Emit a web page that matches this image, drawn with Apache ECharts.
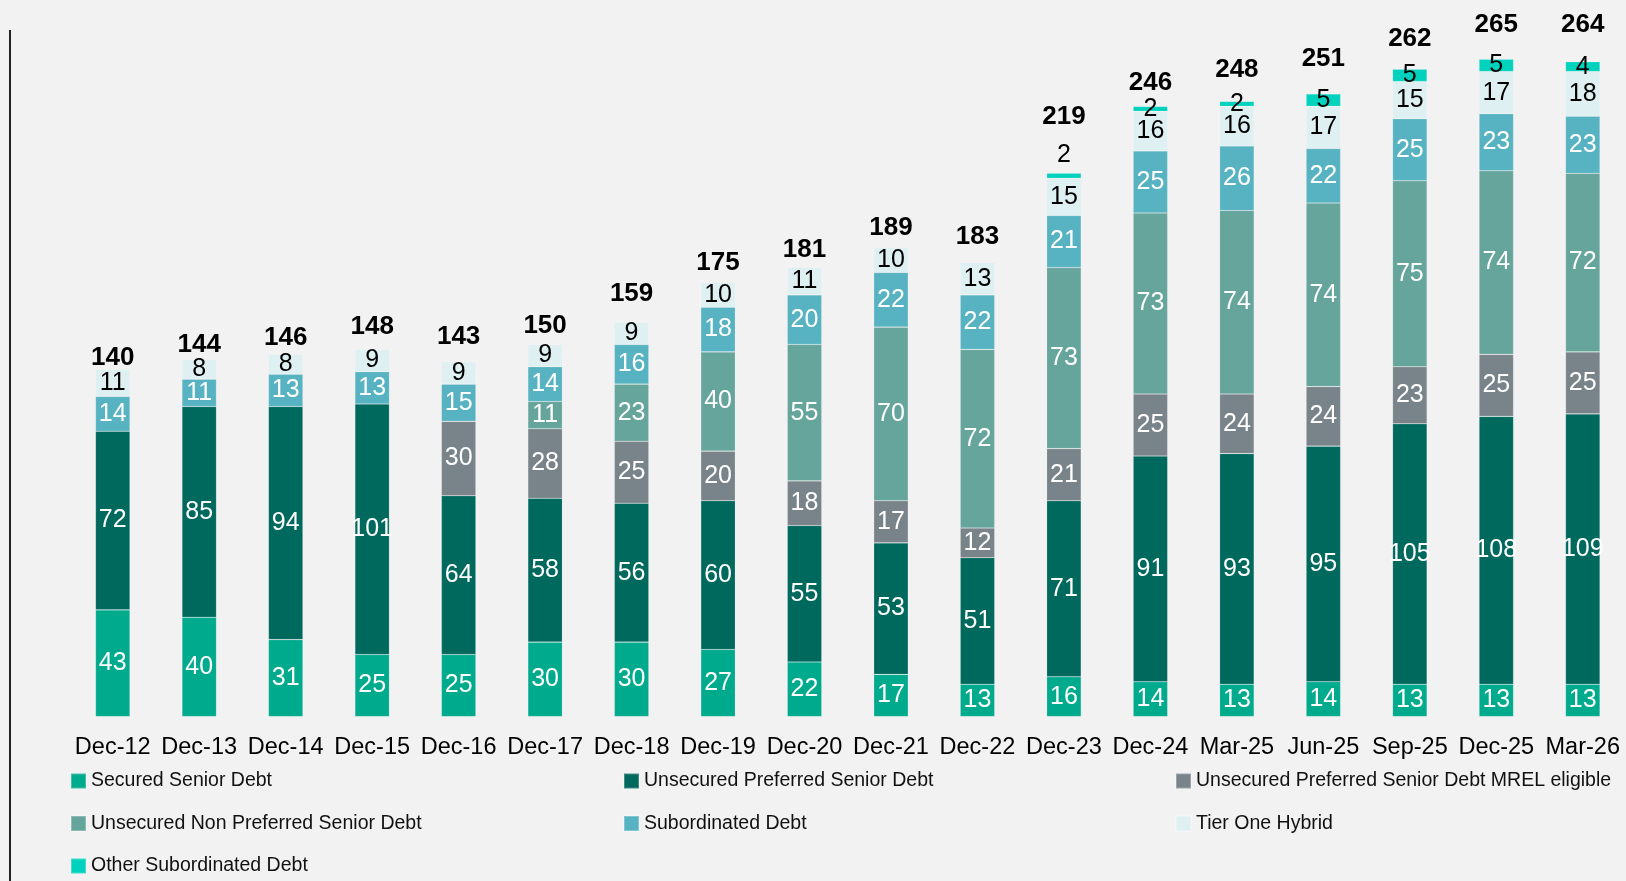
<!DOCTYPE html>
<html>
<head>
<meta charset="utf-8">
<title>Debt structure</title>
<script src="https://cdn.jsdelivr.net/npm/echarts@6/dist/echarts.min.js"></script>
<style>
  html, body { margin: 0; padding: 0; background: #f2f2f2; }
  #chart { width: 1626px; height: 881px; }
</style>
</head>
<body>
<div id="chart"></div>
<script>
// 数据
const categories = ['Dec-12', 'Dec-13', 'Dec-14', 'Dec-15', 'Dec-16', 'Dec-17', 'Dec-18', 'Dec-19', 'Dec-20',
    'Dec-21', 'Dec-22', 'Dec-23', 'Dec-24', 'Mar-25', 'Jun-25', 'Sep-25', 'Dec-25', 'Mar-26'];
const securedSenior = [43, 40, 31, 25, 25, 30, 30, 27, 22, 17, 13, 16, 14, 13, 14, 13, 13, 13];
const unsecuredPreferred = [72, 85, 94, 101, 64, 58, 56, 60, 55, 53, 51, 71, 91, 93, 95, 105, 108, 109];
const unsecuredPreferredMrel = [null, null, null, null, 30, 28, 25, 20, 18, 17, 12, 21, 25, 24, 24, 23, 25, 25];
const unsecuredNonPreferred = [null, null, null, null, null, 11, 23, 40, 55, 70, 72, 73, 73, 74, 74, 75, 74, 72];
const subordinated = [14, 11, 13, 13, 15, 14, 16, 18, 20, 22, 22, 21, 25, 26, 22, 25, 23, 23];
const tierOneHybrid = [11, 8, 8, 9, 9, 9, 9, 10, 11, 10, 13, 15, 16, 16, 17, 15, 17, 18];
const otherSubordinated = [null, null, null, null, null, null, null, null, null, null, null, 2, 2, 2, 5, 5, 5, 4];
const totals = [140, 144, 146, 148, 143, 150, 159, 175, 181, 189, 183, 219, 246, 248, 251, 262, 265, 264];

// 合计标签离柱顶的距离（原图是手工摆放的）
const totalLabelGap = [-2, 2, 4, 10, 12, 6, 15, 7, 5, 7, 13, 43, 11, 19, 22, 15, 21, 24];

const chart = echarts.init(document.getElementById('chart'));

const BAR_W = 34.5;
const FONT = 'Liberation Sans, Arial, sans-serif';

// 堆叠柱子
function stackSeries(name, data, color, labelColor) {
    return {
        name: name,
        type: 'bar',
        stack: 'debt',
        barWidth: BAR_W,
        data: data,
        itemStyle: { color: color, borderColor: 'rgba(255,255,255,0.25)', borderWidth: 0.6 },
        label: {
            show: true,
            position: 'inside',
            color: labelColor,
            fontFamily: FONT,
            fontSize: 25
        },
        emphasis: { disabled: true }
    };
}

// Dec-23 的 "2" 标签在柱子上方
const otherData = otherSubordinated.map((v, i) => {
    if (i === 11) {
        return { value: v, label: { position: 'top', distance: 6 } };
    }
    return v;
});

const totalData = totals.map((v, i) => ({ value: v, label: { distance: totalLabelGap[i] } }));

const series = [
    stackSeries('Secured Senior Debt', securedSenior, '#00aa8d', '#ffffff'),
    stackSeries('Unsecured Preferred Senior Debt', unsecuredPreferred, '#00695e', '#ffffff'),
    stackSeries('Unsecured Preferred Senior Debt MREL eligible', unsecuredPreferredMrel, '#79848a', '#ffffff'),
    stackSeries('Unsecured Non Preferred Senior Debt', unsecuredNonPreferred, '#66a59c', '#ffffff'),
    stackSeries('Subordinated Debt', subordinated, '#57b3c1', '#ffffff'),
    stackSeries('Tier One Hybrid', tierOneHybrid, '#dff0f2', '#000000'),
    stackSeries('Other Subordinated Debt', otherData, '#00d2be', '#000000'),
    {
        name: 'Total',
        type: 'bar',
        barWidth: BAR_W,
        barGap: '-100%',
        data: totalData,
        itemStyle: { color: 'rgba(0,0,0,0)' },
        label: {
            show: true,
            position: 'top',
            color: '#000000',
            fontFamily: FONT,
            fontSize: 26,
            fontWeight: 'bold'
        },
        emphasis: { disabled: true },
        z: 1
    }
];

function legendBlock(left, names) {
    return {
        orient: 'vertical',
        left: left,
        top: 771,
        padding: 0,
        itemGap: 22.5,
        itemWidth: 15,
        itemHeight: 15,
        icon: 'rect',
        selectedMode: false,
        data: names,
        textStyle: { fontFamily: FONT, fontSize: 19.5, color: '#111111' }
    };
}

const option = {
    backgroundColor: '#f2f2f2',
    animation: false,
    grid: {
        left: 69.5,
        width: 1558,
        top: 22,
        bottom: 164.5
    },
    xAxis: {
        type: 'category',
        data: categories,
        axisLine: { show: false },
        axisTick: { show: false },
        axisLabel: {
            margin: 19,
            color: '#000000',
            fontFamily: FONT,
            fontSize: 23.5,
            interval: 0
        }
    },
    yAxis: {
        type: 'value',
        min: 0,
        max: 280,
        show: false
    },
    legend: [
        legendBlock(70, ['Secured Senior Debt', 'Unsecured Non Preferred Senior Debt', 'Other Subordinated Debt']),
        legendBlock(623, ['Unsecured Preferred Senior Debt', 'Subordinated Debt']),
        legendBlock(1175, ['Unsecured Preferred Senior Debt MREL eligible', 'Tier One Hybrid'])
    ],
    graphic: [
        {
            type: 'line',
            shape: { x1: 10, y1: 30, x2: 10, y2: 881 },
            style: { stroke: '#222222', lineWidth: 2 }
        }
    ],
    series: series
};

chart.setOption(option);
</script>
</body>
</html>
